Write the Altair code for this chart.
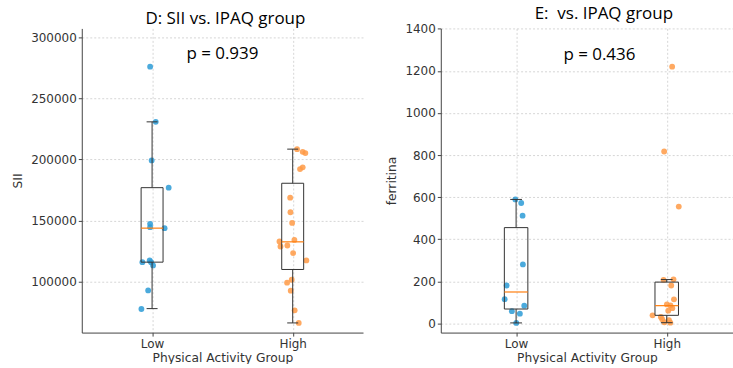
import altair as alt
import pandas as pd

# ---------------- data ----------------
groups = ["Low", "High"]

# Panel D: SII
sii_low = [275800, 230700, 199200, 176900, 147300, 144600, 143800, 116000,
           117400, 116000, 113300, 92900, 77700]
sii_low_jit = [-0.014, 0.026, -0.003, 0.118, -0.014, -0.014, 0.089, -0.069,
               -0.017, -0.007, 0.007, -0.028, -0.076]
sii_high = [208400, 206200, 205200, 193500, 192100, 168700, 156800, 148100,
            132900, 128800, 129600, 134200, 123400, 117400, 101600, 99200,
            92700, 76600, 66300]
sii_high_jit = [0.031, 0.071, 0.090, 0.071, 0.052, -0.018, -0.016, -0.004,
                -0.094, -0.087, -0.038, 0.012, 0.003, 0.097, -0.007, -0.040,
                -0.014, 0.014, 0.043]
# box stats: whisker low, q1, median, q3, whisker high
sii_box_low = [78000, 116000, 143800, 176900, 230700]
sii_box_high = [66300, 110000, 132600, 180500, 208400]
sii_p = "p = 0.939"

# Panel E: ferritina
fer_low = [589, 572, 512, 280, 180, 115, 84, 58, 46, 2]
fer_low_jit = [-0.005, 0.034, 0.043, 0.045, -0.063, -0.076, 0.054, -0.028,
               0.025, 0.001]
fer_high = [1220, 817, 555, 209, 207, 180, 114, 90, 85, 72, 60, 38, 30, 20,
            15, 5, 3]
fer_high_jit = [0.036, -0.017, 0.080, 0.045, -0.021, 0.030, 0.048, 0.001,
                0.025, 0.037, 0.010, -0.094, -0.039, -0.030, 0.015, -0.016,
                0.024]
fer_box_low = [2, 68, 149, 455, 589]
fer_box_high = [3, 38, 84, 196, 208]
fer_p = "p = 0.436"

BLUE = "#2b9bd6"
ORANGE = "#ff9a45"
MED = "#ff7f0e"
DARK = "#333333"


def make_panel(title, ytitle, low, low_j, high, high_j, box_low, box_high,
               ptext, ptext_y, ydomain, yvalues, xdomain, width, height,
               title_dx, ptext_dx):
    pts = pd.DataFrame({
        "g": [0] * len(low) + [1] * len(high),
        "jit": low_j + high_j,
        "v": low + high,
        "grp": [groups[0]] * len(low) + [groups[1]] * len(high),
    })
    box = pd.DataFrame({
        "g": [0, 1],
        "lo": [box_low[0], box_high[0]],
        "q1": [box_low[1], box_high[1]],
        "med": [box_low[2], box_high[2]],
        "q3": [box_low[3], box_high[3]],
        "hi": [box_low[4], box_high[4]],
    })
    txt = pd.DataFrame({"x": [0.5], "y": [ptext_y], "t": [ptext]})

    xscale = alt.Scale(domain=xdomain, nice=False, zero=False)
    yscale = alt.Scale(domain=ydomain, nice=False, zero=False)
    xaxis = alt.Axis(values=[0, 1], labelExpr="datum.value == 0 ? 'Low' : 'High'",
                     title="Physical Activity Group", grid=True)
    yaxis = alt.Axis(values=yvalues, title=ytitle, grid=True, format="d")

    points = alt.Chart(pts).transform_calculate(xp="datum.g + datum.jit").mark_circle(
        size=34, opacity=0.85
    ).encode(
        x=alt.X("xp:Q", scale=xscale, axis=xaxis),
        y=alt.Y("v:Q", scale=yscale, axis=yaxis),
        color=alt.Color("grp:N", scale=alt.Scale(domain=groups, range=[BLUE, ORANGE]),
                        legend=None),
    )

    bb = alt.Chart(box).transform_calculate(
        xl="datum.g - 0.078", xr="datum.g + 0.078",
        cl="datum.g - 0.039", cr="datum.g + 0.039",
    )
    rect = bb.mark_rect(fillOpacity=0, stroke=DARK, strokeWidth=1).encode(
        x=alt.X("xl:Q", scale=xscale), x2="xr:Q",
        y=alt.Y("q1:Q", scale=yscale), y2="q3:Q",
    )
    whisk_lo = bb.mark_rule(color=DARK, strokeWidth=1).encode(
        x=alt.X("g:Q", scale=xscale), y=alt.Y("lo:Q", scale=yscale), y2="q1:Q")
    whisk_hi = bb.mark_rule(color=DARK, strokeWidth=1).encode(
        x=alt.X("g:Q", scale=xscale), y=alt.Y("q3:Q", scale=yscale), y2="hi:Q")
    cap_lo = bb.mark_rule(color=DARK, strokeWidth=1).encode(
        x=alt.X("cl:Q", scale=xscale), x2="cr:Q", y=alt.Y("lo:Q", scale=yscale))
    cap_hi = bb.mark_rule(color=DARK, strokeWidth=1).encode(
        x=alt.X("cl:Q", scale=xscale), x2="cr:Q", y=alt.Y("hi:Q", scale=yscale))
    med = bb.mark_rule(color=MED, strokeWidth=1.2).encode(
        x=alt.X("xl:Q", scale=xscale), x2="xr:Q", y=alt.Y("med:Q", scale=yscale))

    ptxt = alt.Chart(txt).mark_text(
        font="Open Sans", fontSize=17, color="black", baseline="alphabetic",
        align="center", dx=ptext_dx
    ).encode(x=alt.X("x:Q", scale=xscale), y=alt.Y("y:Q", scale=yscale), text="t:N")

    return alt.layer(points, rect, whisk_lo, whisk_hi, cap_lo, cap_hi, med, ptxt).properties(
        width=width, height=height,
        title=alt.TitleParams(title, font="Open Sans", fontSize=17, fontWeight="normal",
                              color="black", anchor="middle", dx=title_dx, offset=0),
    )


left = make_panel("D: SII vs. IPAQ group", "SII", sii_low, sii_low_jit, sii_high,
                  sii_high_jit, sii_box_low, sii_box_high, sii_p, 281800,
                  [58400, 307100], [100000, 150000, 200000, 250000, 300000],
                  [-0.5, 1.5], 282, 305, 3, 0)
right = make_panel("E:\u00a0 vs. IPAQ group", "ferritina", fer_low, fer_low_jit, fer_high,
                   fer_high_jit, fer_box_low, fer_box_high, fer_p, 1250,
                   [-44, 1402], [0, 200, 400, 600, 800, 1000, 1200, 1400],
                   [-0.5, 1.44], 293, 305, 17, 8)

chart = alt.hconcat(left, right, spacing=78, bounds="flush").properties(
    padding={"left": 11, "top": 4, "right": 0, "bottom": 0},
).configure_view(stroke=None).configure_axis(
    labelFont="DejaVu Sans", labelFontSize=12, labelColor="#333333",
    titleFont="DejaVu Sans", titleFontSize=12.3, titleColor="#333333", titleFontWeight="normal",
    domainColor="#444444", domainWidth=1, tickColor="#444444", tickSize=3.5,
    labelPadding=2, gridColor="#cccccc", gridDash=[2, 2], gridWidth=0.8,
).configure_axisY(titlePadding=6).configure_axisX(titlePadding=2)

chart.save("out.html", embed_options={"renderer": "svg", "actions": False})
